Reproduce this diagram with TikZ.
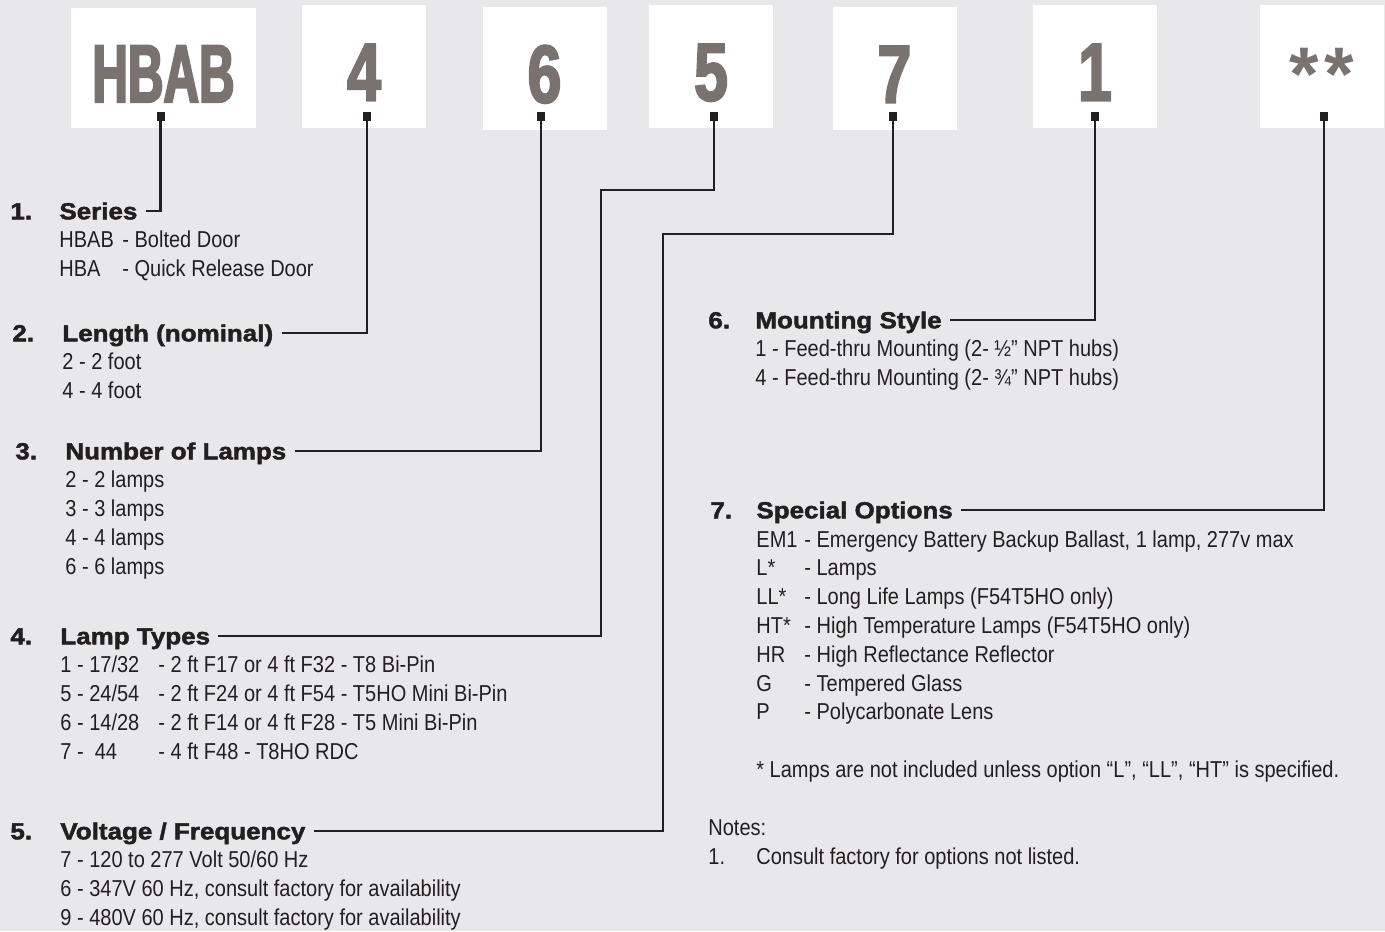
\documentclass[tikz,border=0pt]{standalone}
\usepackage{fontspec}
\setmainfont{Liberation Sans}
\newfontfamily\bodyfont[FakeStretch=0.87]{Liberation Sans}
\newfontfamily\headfont[FakeStretch=1.12,FakeBold=2]{Liberation Sans}
\newfontfamily\bigfont[FakeStretch=0.6,FakeBold=2.5]{Liberation Sans}
\newfontfamily\digitfont[FakeStretch=0.74,FakeBold=2.5]{Liberation Sans}
\definecolor{paper}{RGB}{232,232,234}
\definecolor{ink}{RGB}{35,31,32}
\definecolor{codegray}{RGB}{122,114,111}
\tikzset{
  codebox/.style={fill=white, inner sep=0pt, minimum width=62pt, minimum height=61.5pt,
    text height=34pt, text depth=0pt, text=codegray,
    font=\digitfont\bfseries\fontsize{41}{41}\selectfont},
  marker/.style={fill=ink, inner sep=0pt, minimum size=4pt},
  wire/.style={draw=ink, line width=1.3pt},
  head/.style={anchor=west, inner sep=0pt, text height=8.3pt, text depth=0pt, text=ink,
    font=\headfont\bfseries\fontsize{11.6}{13}\selectfont},
  item/.style={anchor=west, inner sep=0pt, text height=8.2pt, text depth=0pt, text=ink,
    font=\bodyfont\fontsize{11.5}{13}\selectfont},
}
\begin{document}
\begin{tikzpicture}[x=0.5pt, y=-0.5pt]
    \fill[paper] (0,0) rectangle (1385,931);
    \useasboundingbox (0,0) rectangle (1385,931);
    % code boxes
    \node[codebox, minimum width=92.5pt, minimum height=60pt,
        font=\bigfont\bfseries\fontsize{41}{41}\selectfont] (bseries) at (163.5,68) {HBAB};
    \node[codebox] (blength) at (364,66.5) {4};
    \node[codebox] (blamps) at (544.5,68.5) {6};
    \node[codebox] (btype) at (711,66.5) {5};
    \node[codebox] (bvolt) at (894.5,68.5) {7};
    \node[codebox] (bmount) at (1095,66.5) {1};
    \node[codebox, font=\bfseries\fontsize{38}{38}\selectfont] (bopt) at (1322,66.5) {*\kern3pt*};
    % headings
    \foreach \n/\nx/\x/\y/\t in {1/10/59/211/Series, 2/12/62/333/{Length (nominal)},
        3/15/65/451/{Number of Lamps}, 4/10/60/636/{Lamp Types}, 5/10/60/831/{Voltage / Frequency},
        6/708/755/320/{Mounting Style}, 7/710/756/510/{Special Options}} {
        \node[head] (num\n) at (\nx,\y) {\n.};
        \node[head] (h\n) at (\x,\y) {\t};
    }
    % connectors
    \coordinate (k4) at (601,190);
    \coordinate (k5) at (663,234);
    \foreach \n/\x in {1/160.5, 2/367, 3/541, 4/714, 5/893, 6/1095, 7/1324}
        \node[marker] (m\n) at (\x,116.5) {};
    \foreach \n in {1,2,3,6,7}
        \draw[wire] (m\n) |- ([xshift=4pt]h\n.east);
    \draw[wire] (m4) |- (k4) |- ([xshift=4pt]h4.east);
    \draw[wire] (m5) |- (k5) |- ([xshift=4pt]h5.east);
    % series
    \foreach \c/\d [count=\j] in {HBAB/{- Bolted Door}, HBA/{- Quick Release Door}} {
        \node[item] (ser\j) at (59,211+28.75*\j) {\c};
        \node[item] (serd\j) at (122,211+28.75*\j) {\d};
    }
    % length
    \foreach \t [count=\j] in {{2 - 2 foot}, {4 - 4 foot}}
        \node[item] (len\j) at (62,333+28.75*\j) {\t};
    % lamps
    \foreach \t [count=\j] in {{2 - 2 lamps}, {3 - 3 lamps}, {4 - 4 lamps}, {6 - 6 lamps}}
        \node[item] (lmp\j) at (65,451+28.75*\j) {\t};
    % lamp types
    \foreach \c/\d [count=\j] in {{1 - 17/32}/{- 2 ft F17 or 4 ft F32 - T8 Bi-Pin},
        {5 - 24/54}/{- 2 ft F24 or 4 ft F54 - T5HO Mini Bi-Pin},
        {6 - 14/28}/{- 2 ft F14 or 4 ft F28 - T5 Mini Bi-Pin},
        {7 -\ \ 44}/{- 4 ft F48 - T8HO RDC}} {
        \node[item] (typ\j) at (60,636+28.75*\j) {\c};
        \node[item] (typd\j) at (158,636+28.75*\j) {\d};
    }
    % voltage
    \foreach \t [count=\j] in {{7 - 120 to 277 Volt 50/60 Hz},
        {6 - 347V 60 Hz, consult factory for availability},
        {9 - 480V 60 Hz, consult factory for availability}}
        \node[item] (vlt\j) at (60,831+28.75*\j) {\t};
    % mounting
    \foreach \t [count=\j] in {{1 - Feed-thru Mounting (2- ½” NPT hubs)},
        {4 - Feed-thru Mounting (2- ¾” NPT hubs)}}
        \node[item] (mnt\j) at (755,320+28.75*\j) {\t};
    % options
    \foreach \c/\d [count=\j] in {EM1/{- Emergency Battery Backup Ballast, 1 lamp, 277v max},
        L*/{- Lamps}, LL*/{- Long Life Lamps (F54T5HO only)},
        HT*/{- High Temperature Lamps (F54T5HO only)}, HR/{- High Reflectance Reflector},
        G/{- Tempered Glass}, P/{- Polycarbonate Lens}} {
        \node[item] (opt\j) at (756,510+28.8*\j) {\c};
        \node[item] (optd\j) at (804,510+28.8*\j) {\d};
    }
    \node[item] (foot) at (756,769) {* Lamps are not included unless option “L”, “LL”, “HT” is specified.};
    % notes
    \node[item] (notes) at (708,827) {Notes:};
    \node[item] (note1) at (708,856) {1.};
    \node[item] (notet1) at (756,856) {Consult factory for options not listed.};
\end{tikzpicture}
\end{document}
